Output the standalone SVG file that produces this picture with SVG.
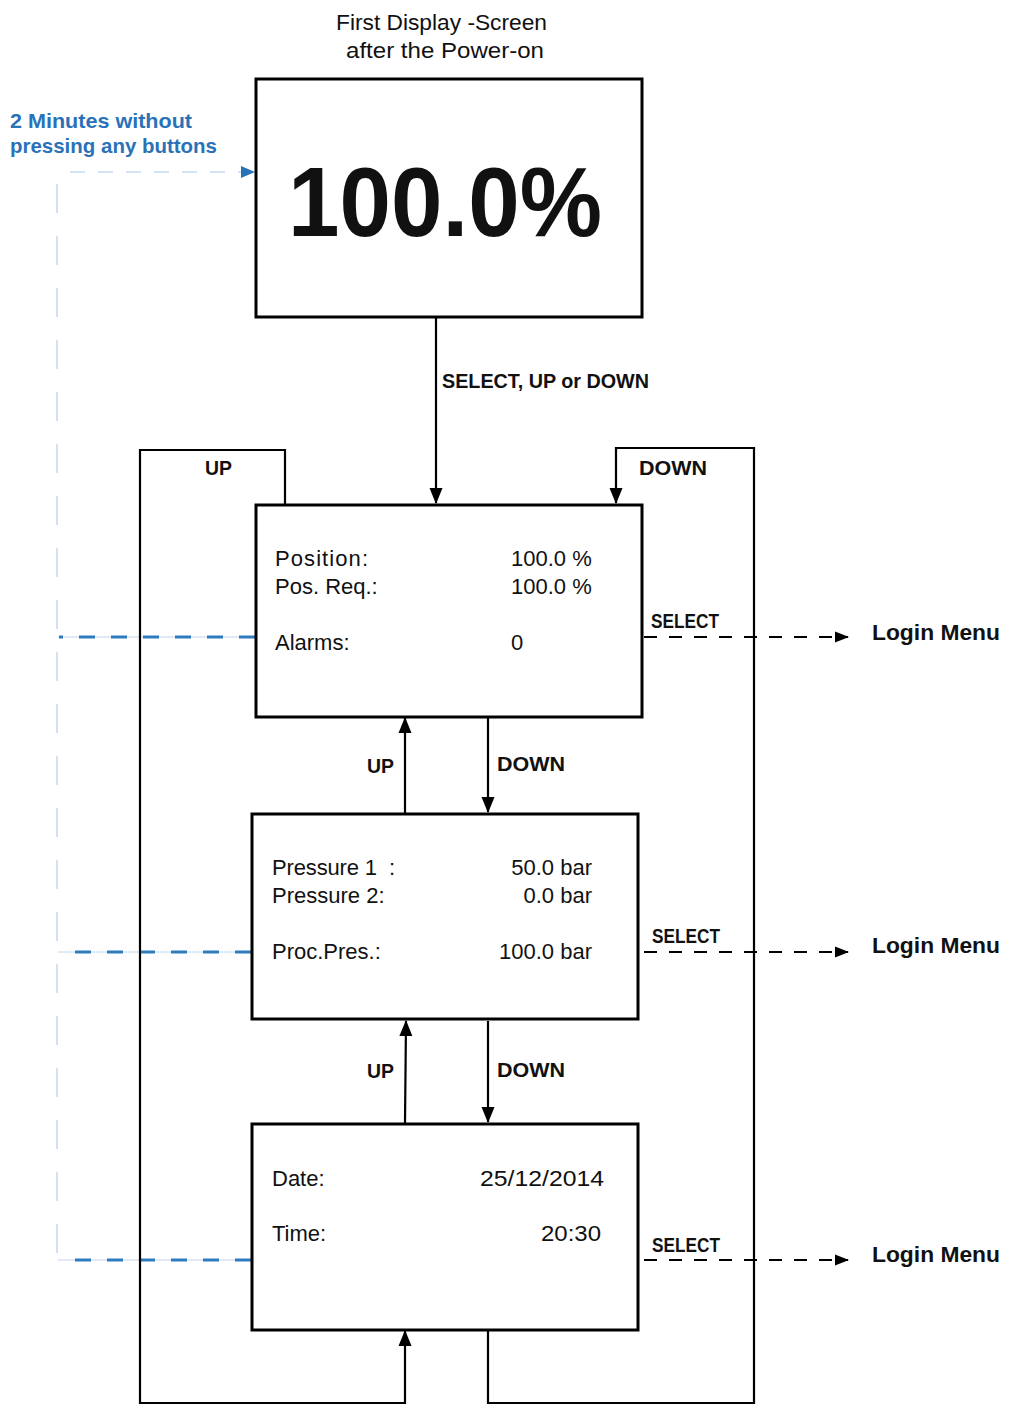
<svg xmlns="http://www.w3.org/2000/svg" width="1012" height="1423" viewBox="0 0 1012 1423">
<style>
.box{fill:#fff;stroke:#000;stroke-width:3}
.conn{fill:none;stroke:#000;stroke-width:2.2}
.sel{fill:none;stroke:#000;stroke-width:2;stroke-dasharray:13 12}
.t{font-family:"Liberation Sans",Arial,sans-serif;fill:#111}
.reg{font-size:22px}
.lbl{font-size:20px;font-weight:bold}
.login{font-size:22px;font-weight:bold}
.blue{font-family:"Liberation Sans",Arial,sans-serif;font-size:21px;font-weight:bold;fill:#2a72b8}
.bdash{fill:none;stroke:#2f7bc0;stroke-width:3;stroke-dasharray:16 16}
.bthin{fill:none;stroke:#c3d6ea;stroke-width:1}
.vdash{fill:none;stroke:#c5d8ec;stroke-width:1.5;stroke-dasharray:29 23}
</style>
<defs>
<marker id="ah" markerUnits="userSpaceOnUse" markerWidth="16" markerHeight="16" viewBox="0 0 16 16" refX="15" refY="8" orient="auto">
<path d="M0,1.5 L16,8 L0,14.5 Z" fill="#000"/>
</marker>
<marker id="ahs" markerUnits="userSpaceOnUse" markerWidth="14" markerHeight="14" viewBox="0 0 14 14" refX="13" refY="7" orient="auto">
<path d="M0,1.5 L14,7 L0,12.5 Z" fill="#000"/>
</marker>
<marker id="ahb" markerUnits="userSpaceOnUse" markerWidth="14" markerHeight="14" viewBox="0 0 14 14" refX="13" refY="7" orient="auto">
<path d="M0,1 L14,7 L0,13 Z" fill="#2a72b8"/>
</marker>
</defs>

<g id="title">
<text class="t reg" x="336" y="30" textLength="211" lengthAdjust="spacingAndGlyphs">First Display -Screen</text>
<text class="t reg" x="346" y="58" textLength="198" lengthAdjust="spacingAndGlyphs">after the Power-on</text>
</g>

<g id="timeout-label">
<text class="blue" x="10" y="128" textLength="182" lengthAdjust="spacingAndGlyphs">2 Minutes without</text>
<text class="blue" x="10" y="153" textLength="207" lengthAdjust="spacingAndGlyphs">pressing any buttons</text>
</g>

<g id="connectors">
<line class="vdash" x1="57" y1="184" x2="57" y2="1262"/>
<line x1="70" y1="172" x2="254" y2="172" stroke="#a9c8e8" stroke-width="1.2" stroke-dasharray="15 13" marker-end="url(#ahb)"/>
<line class="bthin" x1="58" y1="637" x2="255" y2="637"/>
<line class="bdash" x1="255" y1="637" x2="59" y2="637"/>
<line class="bthin" x1="58" y1="952" x2="251" y2="952"/>
<line class="bdash" x1="251" y1="952" x2="59" y2="952"/>
<line class="bthin" x1="58" y1="1260" x2="251" y2="1260"/>
<line class="bdash" x1="251" y1="1260" x2="59" y2="1260"/>

<line class="conn" x1="436" y1="318" x2="436" y2="503" marker-end="url(#ah)"/>
<polyline class="conn" points="285,504 285,450 140,450 140,1403 405,1403 405,1331" marker-end="url(#ah)"/>
<polyline class="conn" points="488,1331 488,1403 754,1403 754,448 616,448 616,503" marker-end="url(#ah)"/>
<line class="conn" x1="405" y1="813" x2="405" y2="718" marker-end="url(#ah)"/>
<line class="conn" x1="488" y1="718" x2="488" y2="812" marker-end="url(#ah)"/>
<line class="conn" x1="405" y1="1123" x2="406" y2="1021" marker-end="url(#ah)"/>
<line class="conn" x1="488" y1="1021" x2="488" y2="1122" marker-end="url(#ah)"/>
<line class="sel" x1="644" y1="637" x2="848" y2="637" marker-end="url(#ahs)"/>
<line class="sel" x1="644" y1="952" x2="848" y2="952" marker-end="url(#ahs)"/>
<line class="sel" x1="644" y1="1260" x2="848" y2="1260" marker-end="url(#ahs)"/>

<text class="t lbl" x="442" y="388" textLength="207" lengthAdjust="spacingAndGlyphs">SELECT, UP or DOWN</text>
<text class="t lbl" x="205" y="475" textLength="27" lengthAdjust="spacingAndGlyphs">UP</text>
<text class="t lbl" x="639" y="475" textLength="68" lengthAdjust="spacingAndGlyphs">DOWN</text>
<text class="t lbl" x="367" y="773" textLength="27" lengthAdjust="spacingAndGlyphs">UP</text>
<text class="t lbl" x="497" y="771" textLength="68" lengthAdjust="spacingAndGlyphs">DOWN</text>
<text class="t lbl" x="367" y="1078" textLength="27" lengthAdjust="spacingAndGlyphs">UP</text>
<text class="t lbl" x="497" y="1077" textLength="68" lengthAdjust="spacingAndGlyphs">DOWN</text>
<text class="t lbl" x="651" y="628" textLength="68" lengthAdjust="spacingAndGlyphs">SELECT</text>
<text class="t lbl" x="652" y="943" textLength="68" lengthAdjust="spacingAndGlyphs">SELECT</text>
<text class="t lbl" x="652" y="1252" textLength="68" lengthAdjust="spacingAndGlyphs">SELECT</text>
</g>

<g id="node-start">
<rect class="box" x="256" y="79" width="386" height="238"/>
<text class="t" x="288" y="236" font-size="98" font-weight="bold" textLength="314" lengthAdjust="spacingAndGlyphs">100.0%</text>
</g>

<g id="node-position">
<rect class="box" x="256" y="505" width="386" height="212"/>
<text class="t reg" x="275" y="566" textLength="93" lengthAdjust="spacing">Position:</text>
<text class="t reg" x="275" y="594">Pos. Req.:</text>
<text class="t reg" x="275" y="650">Alarms:</text>
<text class="t reg" x="511" y="566">100.0 %</text>
<text class="t reg" x="511" y="594">100.0 %</text>
<text class="t reg" x="511" y="650">0</text>
</g>

<g id="node-pressure">
<rect class="box" x="252" y="814" width="386" height="205"/>
<text class="t reg" x="272" y="875" xml:space="preserve" textLength="123" lengthAdjust="spacing">Pressure 1  :</text>
<text class="t reg" x="272" y="903">Pressure 2:</text>
<text class="t reg" x="272" y="959">Proc.Pres.:</text>
<text class="t reg" x="592" y="875" text-anchor="end">50.0 bar</text>
<text class="t reg" x="592" y="903" text-anchor="end">0.0 bar</text>
<text class="t reg" x="592" y="959" text-anchor="end">100.0 bar</text>
</g>

<g id="node-datetime">
<rect class="box" x="252" y="1124" width="386" height="206"/>
<text class="t reg" x="272" y="1186">Date:</text>
<text class="t reg" x="272" y="1241">Time:</text>
<text class="t reg" x="480" y="1186" textLength="124" lengthAdjust="spacingAndGlyphs">25/12/2014</text>
<text class="t reg" x="541" y="1241" textLength="60" lengthAdjust="spacingAndGlyphs">20:30</text>
</g>

<g id="node-login1"><text class="t login" x="872" y="640" textLength="128" lengthAdjust="spacingAndGlyphs">Login Menu</text></g>
<g id="node-login2"><text class="t login" x="872" y="953" textLength="128" lengthAdjust="spacingAndGlyphs">Login Menu</text></g>
<g id="node-login3"><text class="t login" x="872" y="1262" textLength="128" lengthAdjust="spacingAndGlyphs">Login Menu</text></g>
</svg>
